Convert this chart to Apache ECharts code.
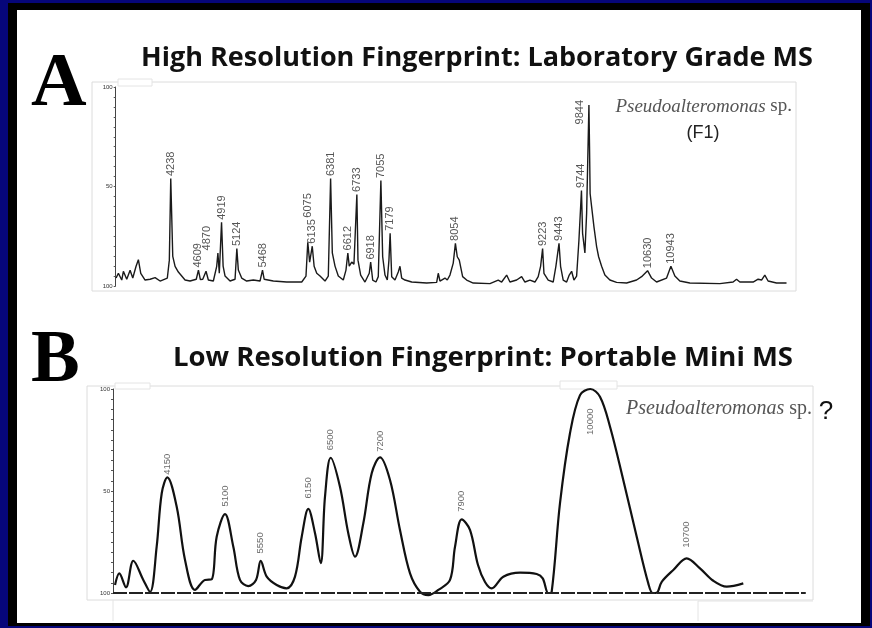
<!DOCTYPE html>
<html>
<head>
<meta charset="utf-8">
<script src="https://cdn.jsdelivr.net/npm/echarts@6/dist/echarts.min.js"></script>
<style>
  html, body { margin: 0; padding: 0; background: #06067a; }
  #chart { width: 872px; height: 628px; }
</style>
</head>
<body>
<div id="chart"></div>
<script>
// ---- Panel A: high-resolution spectrum ----
// Labelled peaks: [m/z, relative intensity %]
const peaksA = [
  [4238, 54], [4609, 8], [4870, 16.6], [4919, 32], [5124, 18.8], [5468, 8],
  [6075, 22], [6135, 20], [6381, 54], [6612, 16.6], [6733, 46], [6918, 12],
  [7055, 53], [7179, 26.5], [8054, 21.4], [9223, 18.8], [9443, 21.4],
  [9744, 48], [9844, 91], [10630, 7.7], [10943, 9.9]
];
// Baseline, noise and peak flanks between the labelled peaks
const traceA = [
  [3505, 4], [3536, 6.4], [3581, 3], [3603, 7.4], [3648, 3.4], [3693, 7.9], [3729, 4],
  [3773, 9.9], [3804, 13.2], [3836, 6.4], [3894, 3], [3961, 3.4], [4028, 4.2], [4095, 2.5],
  [4192, 4], [4219, 13], [4265, 14.9], [4296, 9.9], [4340, 7], [4385, 5], [4430, 3],
  [4497, 2.5], [4580, 3.4], [4635, 3.2], [4667, 3.4], [4711, 7.4], [4742, 3], [4809, 2.5],
  [4854, 9.9], [4889, 6.4], [4940, 10], [4966, 5], [5033, 2.5], [5100, 3.4], [5144, 8],
  [5189, 4], [5256, 2.5], [5345, 3], [5435, 2.5], [5490, 3.4], [5613, 2.5], [5792, 2],
  [5994, 2], [6051, 5], [6100, 12], [6160, 9.9], [6195, 6.4], [6239, 5], [6306, 2.5],
  [6350, 5], [6404, 16.6], [6440, 10], [6484, 5], [6551, 3], [6587, 8], [6631, 10],
  [6664, 12], [6694, 11], [6748, 13], [6784, 5.5], [6842, 2], [6899, 6.4], [6945, 3],
  [6989, 2], [7020, 4.7], [7079, 14.7], [7110, 5.5], [7141, 3], [7163, 13], [7200, 4.7],
  [7244, 3], [7288, 7], [7311, 9.9], [7334, 4], [7378, 3], [7468, 2], [7669, 1.5],
  [7803, 1.8], [7824, 6.4], [7847, 2.5], [7914, 4], [7945, 3], [7981, 5.5], [8025, 11.5],
  [8079, 14.7], [8106, 13], [8151, 4.7], [8205, 3], [8293, 1.5], [8517, 1.2], [8628, 3],
  [8674, 2], [8741, 5.5], [8785, 2], [8875, 3], [8942, 4.7], [8986, 2], [9053, 3],
  [9120, 2], [9164, 4.7], [9196, 9.9], [9241, 6.4], [9267, 7.4], [9298, 3], [9365, 2],
  [9401, 9.9], [9464, 9.9], [9499, 3], [9545, 2], [9580, 5.5], [9612, 7.4], [9643, 3],
  [9679, 5], [9710, 23], [9759, 26.5], [9790, 16.6], [9813, 36.5], [9852, 70],
  [9860, 46.5], [9880, 39.9], [9911, 29.8], [9947, 19.8], [9974, 14.7], [10014, 9.9],
  [10058, 5.5], [10125, 3], [10215, 1.8], [10349, 1.5], [10483, 3], [10550, 4.7],
  [10684, 4], [10751, 2], [10885, 4], [10996, 5], [11063, 2.5], [11197, 1.5],
  [11599, 1.2], [11777, 2], [11823, 3.4], [11867, 2], [12045, 2], [12112, 3.4],
  [12158, 3], [12202, 5.5], [12246, 2.5], [12359, 1.5], [12493, 1.5]
];
const axisA = { min: 3500, max: 12620 };

// ---- Panel B: low-resolution spectrum ----
const peakNamesB = ['4150', '5100', '5550', '6150', '6500', '7200', '7900', '10000', '10700'];
const peakPosB = [
  [4150, 56.7], [4948, 38.7], [5442, 15.7], [6100, 41.2], [6410, 66.3],
  [7092, 66.5], [8222, 36.1], [10000, 100], [11333, 17]
];
const traceB = [
  [3427, 3.9], [3486, 9.6], [3579, 2.8], [3680, 15.8], [3818, 6.4], [3911, 0.5],
  [4003, 22.7], [4073, 48.9], [4280, 42.3], [4395, 16.2], [4533, 1.5], [4671, 6.4],
  [4764, 6.7], [4833, 27.6], [5063, 22.7], [5155, 6.4], [5270, 3.4], [5377, 6.4],
  [5525, 8], [5663, 3.9], [5801, 2.3], [5916, 8], [6009, 27.6], [6193, 29.3],
  [6272, 14.6], [6331, 47.2], [6538, 52.1], [6653, 29.3], [6746, 17.8], [6861, 34.2],
  [6977, 58.7], [7230, 55.4], [7368, 30.9], [7507, 9.6], [7645, 0.6], [7760, -1],
  [7898, 1.5], [8060, 6.4], [8129, 22.7], [8336, 31], [8447, 13.7], [8544, 5.4],
  [8636, 2.3], [8797, 8], [9028, 10], [9259, 9.3], [9342, 7.2], [9419, 0], [9466, 0.6],
  [9581, 44], [9719, 78.3], [9858, 97], [10134, 96.2], [10273, 81.5], [10456, 55.4],
  [10642, 27.6], [10802, 4.7], [10863, 0], [10918, 0.1], [10988, 5.5], [11148, 11.3],
  [11517, 12.1], [11701, 6], [11887, 3.1], [12116, 4.7]
];
const axisB = { min: 3399, max: 13080 };

// Intensity axis tick texts (both panels)
const yTickTexts = [[0, '100'], [50, '50'], [100, '100']];

// ---- build ----
const byMz = (a, b) => a[0] - b[0];
const lineA = traceA.concat(peaksA).sort(byMz);
const lineB = traceB.concat(peakPosB).sort(byMz);
const tickMap = Object.fromEntries(yTickTexts);

const W = 872, H = 628;
const gridA = { left: 115.7, top: 87, width: 680.3, height: 199 };
const gridB = { left: 113, top: 389, width: 700, height: 204 };

function yAxis(gridIndex) {
  return {
    type: 'value', gridIndex, min: 0, max: 100, interval: 5,
    axisLine: { show: true, lineStyle: { color: '#444', width: 1 } },
    axisTick: { show: true, length: 2, lineStyle: { color: '#555' } },
    splitLine: { show: false },
    axisLabel: {
      fontSize: 6, color: '#333', margin: 3, fontFamily: 'Liberation Sans',
      showMinLabel: true, showMaxLabel: true,
      formatter: v => tickMap[v] || ''
    }
  };
}

// Rotated peak labels read upwards; offset is in the label's own (rotated) frame:
// [along the text, across it]
const peakLabelA = {
  show: true, rotate: 90, position: 'top', distance: 2,
  align: 'left', verticalAlign: 'middle',
  fontSize: 11, fontFamily: 'Liberation Sans', color: '#2a2a2a'
};
const labelShiftA = {
  4870: { offset: [0, -11] },
  6075: { distance: 24 },
  9844: { offset: [-22, -9] }
};

const peakLabelB = {
  show: true, rotate: 90, position: 'top', distance: 7,
  align: 'left', verticalAlign: 'middle',
  fontSize: 9.5, fontFamily: 'Liberation Sans', color: '#444'
};
const labelShiftB = {
  '4150': { distance: 2 },
  '6150': { distance: 10 },
  '7200': { distance: 5 },
  '10000': { position: 'bottom', distance: 19, align: 'right' },
  '10700': { distance: 10 }
};

const hidden = { color: 'rgba(0,0,0,0)' };

function txt(x, y, text, font, extra) {
  return { type: 'text', x, y, style: Object.assign({ text, font, fill: '#111', align: 'left', verticalAlign: 'top' }, extra || {}) };
}

const option = {
  backgroundColor: '#06067a',
  animation: false,
  grid: [Object.assign({}, gridA), Object.assign({}, gridB)],
  xAxis: [
    { type: 'value', gridIndex: 0, min: axisA.min, max: axisA.max, show: false },
    { type: 'value', gridIndex: 1, min: axisB.min, max: axisB.max, show: false }
  ],
  yAxis: [yAxis(0), yAxis(1)],
  graphic: [
    // frame and white sheet
    { type: 'rect', shape: { x: 8, y: 3, width: 862, height: 623 }, style: { fill: '#000' }, z: -10 },
    { type: 'rect', shape: { x: 17, y: 10, width: 844, height: 613 }, style: { fill: '#fff' }, z: -9 },
    // panel outlines
    { type: 'rect', shape: { x: 92, y: 82, width: 704, height: 209 }, style: { fill: 'none', stroke: '#dcdcdc', lineWidth: 1 }, z: -8 },
    { type: 'rect', shape: { x: 118, y: 79, width: 34, height: 7 }, style: { fill: '#fff', stroke: '#e4e4e4', lineWidth: 1 }, z: -7 },
    { type: 'rect', shape: { x: 87, y: 386, width: 726, height: 214 }, style: { fill: 'none', stroke: '#dcdcdc', lineWidth: 1 }, z: -8 },
    { type: 'rect', shape: { x: 115, y: 383, width: 35, height: 6 }, style: { fill: '#fff', stroke: '#e4e4e4', lineWidth: 1 }, z: -7 },
    { type: 'rect', shape: { x: 560, y: 381, width: 57, height: 8 }, style: { fill: '#fff', stroke: '#e4e4e4', lineWidth: 1 }, z: -7 },
    { type: 'polyline', shape: { points: [[113, 600], [113, 621]] }, style: { stroke: '#e4e4e4', lineWidth: 1 }, z: -7 },
    { type: 'polyline', shape: { points: [[698, 621], [698, 601], [813, 601]] }, style: { stroke: '#e4e4e4', lineWidth: 1 }, z: -7 },
    // panel letters
    txt(31, 47, 'A', 'bold 77px "Liberation Serif"', { fill: '#000' }),
    txt(31, 326, 'B', 'bold 73px "Liberation Serif"', { fill: '#000' }),
    // headings
    txt(477, 58, 'High Resolution Fingerprint: Laboratory Grade MS', 'bold 27px "Open Sans"', { align: 'center', verticalAlign: 'middle' }),
    txt(483, 358, 'Low Resolution Fingerprint: Portable Mini MS', 'bold 27.5px "Open Sans"', { align: 'center', verticalAlign: 'middle' }),
    // organism captions
    txt(792, 97, '{i|Pseudoalteromonas} sp.', '19px "Liberation Serif"', {
      align: 'right', fill: '#555',
      rich: { i: { fontStyle: 'italic', fontFamily: 'Liberation Serif', fontSize: 19, fill: '#555' } }
    }),
    txt(703, 124, '(F1)', '18px "Liberation Sans"', { align: 'center', fill: '#222' }),
    txt(812, 399, '{i|Pseudoalteromonas} sp.', '20px "Liberation Serif"', {
      align: 'right', fill: '#555',
      rich: { i: { fontStyle: 'italic', fontFamily: 'Liberation Serif', fontSize: 20, fill: '#555' } }
    }),
    txt(826, 399, '?', '26px "Liberation Sans"', { align: 'center' })
  ],
  series: [
    {
      type: 'line', xAxisIndex: 0, yAxisIndex: 0, data: lineA,
      showSymbol: false, symbol: 'none', smooth: false,
      lineStyle: { color: '#1a1a1a', width: 1.4 }, z: 3
    },
    {
      type: 'scatter', xAxisIndex: 0, yAxisIndex: 0, symbolSize: 1,
      itemStyle: hidden, clip: false,
      data: peaksA.map(p => ({
        value: p, name: String(p[0]),
        label: Object.assign({}, peakLabelA, labelShiftA[p[0]] || {}, { formatter: '{b}' })
      })),
      z: 4
    },
    {
      type: 'line', xAxisIndex: 1, yAxisIndex: 1, data: lineB,
      showSymbol: false, symbol: 'none', smooth: 0.35, clip: false,
      lineStyle: { color: '#111', width: 2.2 }, z: 3,
      markLine: {
        silent: true, symbol: 'none', label: { show: false },
        lineStyle: { color: '#222', width: 2, type: [14, 2] },
        data: [[{ coord: [axisB.min, 0] }, { coord: [12980, 0] }]]
      }
    },
    {
      type: 'scatter', xAxisIndex: 1, yAxisIndex: 1, symbolSize: 1,
      itemStyle: hidden, clip: false,
      data: peakPosB.map((p, i) => ({
        value: p, name: peakNamesB[i],
        label: Object.assign({}, peakLabelB, labelShiftB[peakNamesB[i]] || {}, { formatter: '{b}' })
      })),
      z: 4
    }
  ]
};

const chart = echarts.init(document.getElementById('chart'), null, { renderer: 'canvas', width: W, height: H });
chart.setOption(option);
</script>
</body>
</html>
